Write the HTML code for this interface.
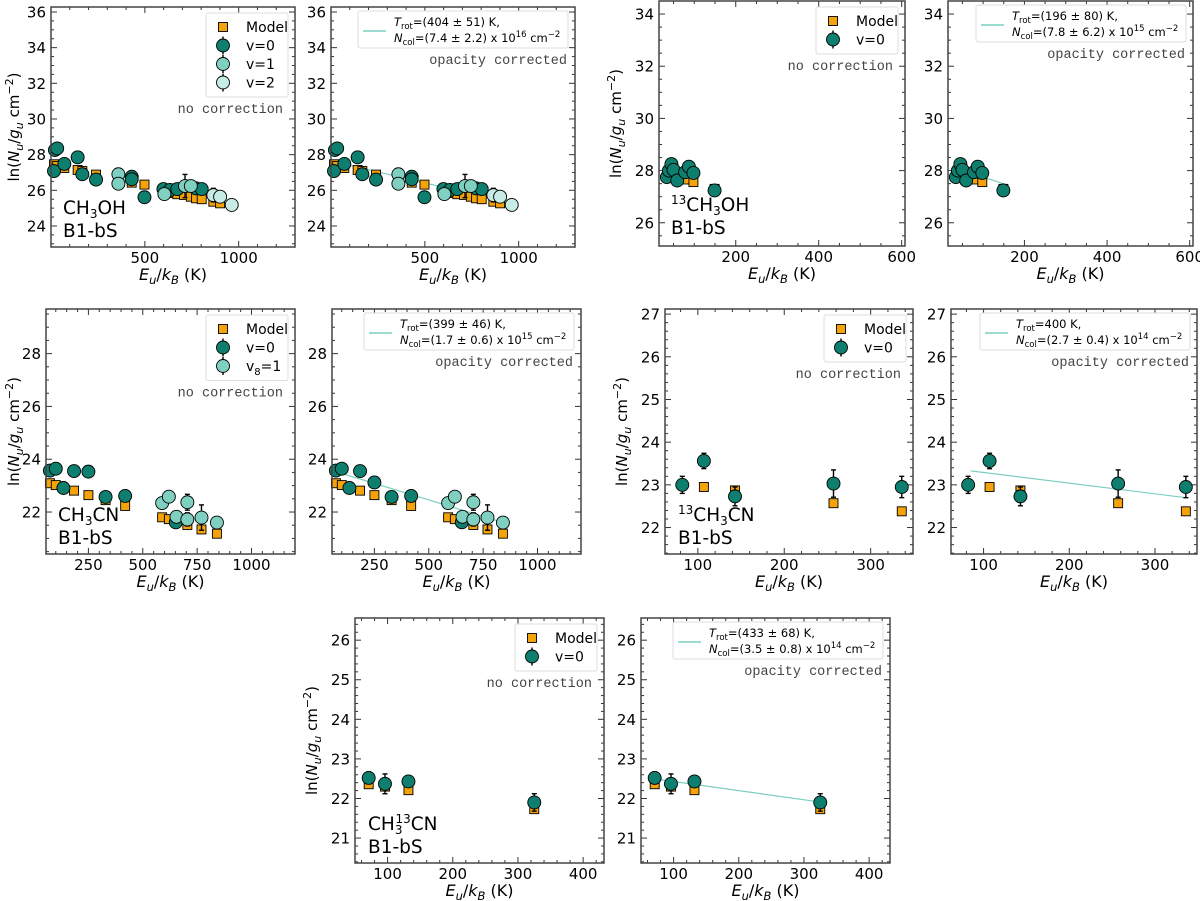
<!DOCTYPE html>
<html><head><meta charset="utf-8"><style>
html,body{margin:0;padding:0;background:#fff;}
svg{display:block;font-family:"DejaVu Sans","Liberation Sans",sans-serif;}
</style></head><body>
<svg id="fig" width="1200" height="901" viewBox="0 0 1200 901" xmlns="http://www.w3.org/2000/svg"></svg>
<script>
// ---- CH3OH ----
const ch3ohModelE=[16,33,71,142,167,240,430,498,634,673,709,745,773,803,865,901];
const ch3ohModelY=[27.46,27.36,27.25,27.14,27.08,26.88,26.43,26.32,25.85,25.78,25.74,25.64,25.55,25.5,25.36,25.27];
const ch3ohV0E=[21,33,16,71,142,167,240,430,430,498,599,634,673,773,803];
const ch3ohV0Y=[28.26,28.35,27.08,27.48,27.85,26.9,26.6,26.76,26.62,25.61,26.07,26.02,26.07,26.11,26.07];
const ch3ohV0Err=[0.1,0.1,0.1,0.1,0.1,0.1,0.1,0.12,0.1,0.15,0.1,0.1,0.1,0.1,0.1];
const ch3ohV1E=[359,359,604,714,745];
const ch3ohV1Y=[26.9,26.37,25.79,26.24,26.24];
const ch3ohV1Err=[0.1,0.1,0.1,0.65,0.1];
const ch3ohV2E=[865,901,963];
const ch3ohV2Y=[25.73,25.64,25.18];
const ch3ohV2Err=[0.38,0.1,0.1];
const ch3ohFitE=[40,960];
const ch3ohFitT=404, ch3ohFitB=27.65;
// ---- 13CH3OH ----
const c13ohModelE=[40,50,78,98,149];
const c13ohModelY=[27.85,27.9,27.66,27.56,27.3];
const c13ohV0E=[34,39,45,50,59,78,87,98,149];
const c13ohV0Y=[27.75,28.0,28.25,28.03,27.62,27.94,28.15,27.91,27.24];
const c13ohV0Err=[0.15,0.1,0.1,0.1,0.1,0.1,0.12,0.1,0.1];
const c13ohFitE=[35,150];
const c13ohFitT=196, c13ohFitB=28.26;
// ---- CH3CN ----
const cnModelE=[73,100,184,250,329,419,589,620,652,705,770,841];
const cnModelY=[23.09,23.02,22.81,22.64,22.45,22.23,21.8,21.73,21.63,21.51,21.34,21.18];
const cnV0E=[73,100,135,184,250,329,419,652];
const cnV0Y=[23.57,23.64,22.91,23.55,23.53,22.57,22.61,21.61];
const cnV0YCorr=[23.57,23.64,22.91,23.55,23.12,22.57,22.61,21.61];
const cnV0Err=[0.08,0.08,0.08,0.08,0.08,0.1,0.22,0.1];
const cnV8E=[589,620,655,705,705,770,841];
const cnV8Y=[22.34,22.58,21.82,22.37,21.72,21.79,21.6];
const cnV8Err=[0.22,0.12,0.12,0.3,0.25,0.48,0.22];
const cnFitE=[73,840];
const cnFitT=399, cnFitB=23.71;
// ---- 13CH3CN ----
const c13cnModelE=[107,143,257,336];
const c13cnModelY=[22.95,22.87,22.57,22.38];
const c13cnV0E=[82,107,143,257,336];
const c13cnV0Y=[23.0,23.56,22.73,23.03,22.95];
const c13cnV0Err=[0.2,0.18,0.22,0.32,0.25];
const c13cnFitE=[85,336];
const c13cnFitT=400, c13cnFitB=23.54;
// ---- CH3 13CN ----
const cn13ModelE=[71,96,132,325];
const cn13ModelY=[22.36,22.3,22.21,21.73];
const cn13V0E=[71,96,132,325];
const cn13V0Y=[22.52,22.37,22.43,21.9];
const cn13V0Err=[0.15,0.25,0.12,0.22];
const cn13FitE=[71,325];
const cn13FitT=433, cn13FitB=22.66;

const NS="http://www.w3.org/2000/svg";
const svg=document.getElementById('fig');
const C_MODEL="#f5a30a", C_V0="#0e7f6e", C_V1="#80d0c2", C_V2="#c6ece5", C_FIT="#7ccfc0";
function mk(tag,attrs,parent){const e=document.createElementNS(NS,tag);for(const k in attrs)e.setAttribute(k,attrs[k]);(parent||svg).appendChild(e);return e;}

const panels=[
 {l:51,r:295,t:7,b:247,xl:[0,1300],yl:[22.82,36.28],xt:[500,1000],xm:100,yt:[24,26,28,30,32,34,36],ym:0.5,ylab:true,
  series:[['model',ch3ohModelE,ch3ohModelY,null],['v0',ch3ohV0E,ch3ohV0Y,ch3ohV0Err],['v1',ch3ohV1E,ch3ohV1Y,ch3ohV1Err],['v2',ch3ohV2E,ch3ohV2Y,ch3ohV2Err]],
  legend:[['model','Model'],['v0','v=0'],['v1','v=1'],['v2','v=2']],species:['CH','3','OH',''],sx:63,sy:214},
 {l:331,r:575,t:7,b:247,xl:[0,1300],yl:[22.82,36.28],xt:[500,1000],xm:100,yt:[24,26,28,30,32,34,36],ym:0.5,
  series:[['model',ch3ohModelE,ch3ohModelY,null],['v0',ch3ohV0E,ch3ohV0Y,ch3ohV0Err],['v1',ch3ohV1E,ch3ohV1Y,ch3ohV1Err],['v2',ch3ohV2E,ch3ohV2Y,ch3ohV2Err]],
  fit:[ch3ohFitE,ch3ohFitT,ch3ohFitB],fitText:['(404 ± 51) K,','(7.4 ± 2.2) x 10','16']},
 {l:659,r:905,t:1,b:246,xl:[15,608],yl:[25.11,34.5],xt:[200,400,600],xm:50,yt:[26,28,30,32,34],ym:0.5,ylab:true,
  series:[['model',c13ohModelE,c13ohModelY,null],['v0',c13ohV0E,c13ohV0Y,c13ohV0Err]],
  legend:[['model','Model'],['v0','v=0']],species:['CH','3','OH','13'],sx:671,sy:211},
 {l:948,r:1193,t:1,b:246,xl:[15,608],yl:[25.11,34.5],xt:[200,400,600],xm:50,yt:[26,28,30,32,34],ym:0.5,
  series:[['model',c13ohModelE,c13ohModelY,null],['v0',c13ohV0E,c13ohV0Y,c13ohV0Err]],
  fit:[c13ohFitE,c13ohFitT,c13ohFitB],fitText:['(196 ± 80) K,','(7.8 ± 6.2) x 10','15']},
 {l:46,r:295,t:309,b:554,xl:[55,1200],yl:[20.41,29.69],xt:[250,500,750,1000],xm:50,yt:[22,24,26,28],ym:0.5,ylab:true,
  series:[['model',cnModelE,cnModelY,null],['v0',cnV0E,cnV0Y,cnV0Err],['v1',cnV8E,cnV8Y,cnV8Err]],
  legend:[['model','Model'],['v0','v=0'],['v1','v8']],species:['CH','3','CN',''],sx:58,sy:521},
 {l:332,r:581,t:309,b:554,xl:[55,1200],yl:[20.41,29.69],xt:[250,500,750,1000],xm:50,yt:[22,24,26,28],ym:0.5,
  series:[['model',cnModelE,cnModelY,null],['v0',cnV0E,cnV0YCorr,cnV0Err],['v1',cnV8E,cnV8Y,cnV8Err]],
  fit:[cnFitE,cnFitT,cnFitB],fitText:['(399 ± 46) K,','(1.7 ± 0.6) x 10','15']},
 {l:665,r:913,t:309,b:554,xl:[62,349],yl:[21.38,27.12],xt:[100,200,300],xm:20,yt:[22,23,24,25,26,27],ym:0.2,ylab:true,
  series:[['model',c13cnModelE,c13cnModelY,null],['v0',c13cnV0E,c13cnV0Y,c13cnV0Err]],
  legend:[['model','Model'],['v0','v=0']],species:['CH','3','CN','13'],sx:678,sy:521},
 {l:951,r:1197,t:309,b:554,xl:[62,349],yl:[21.38,27.12],xt:[100,200,300],xm:20,yt:[22,23,24,25,26,27],ym:0.2,
  series:[['model',c13cnModelE,c13cnModelY,null],['v0',c13cnV0E,c13cnV0Y,c13cnV0Err]],
  fit:[c13cnFitE,c13cnFitT,c13cnFitB],fitText:['400 K,','(2.7 ± 0.4) x 10','14'],fixedT:true},
 {l:355,r:604,t:618,b:863,xl:[50,432],yl:[20.37,26.56],xt:[100,200,300,400],xm:20,yt:[21,22,23,24,25,26],ym:0.2,ylab:true,
  series:[['model',cn13ModelE,cn13ModelY,null],['v0',cn13V0E,cn13V0Y,cn13V0Err]],
  legend:[['model','Model'],['v0','v=0']],species:['CH','3','CN','13x'],sx:368,sy:830},
 {l:641,r:890,t:618,b:863,xl:[50,432],yl:[20.37,26.56],xt:[100,200,300,400],xm:20,yt:[21,22,23,24,25,26],ym:0.2,
  series:[['model',cn13ModelE,cn13ModelY,null],['v0',cn13V0E,cn13V0Y,cn13V0Err]],
  fit:[cn13FitE,cn13FitT,cn13FitB],fitText:['(433 ± 68) K,','(3.5 ± 0.8) x 10','14']}
];

function marker(g,kind,x,y){
  if(kind==='model'){
    const m=mk('rect',{x:x-4.5,y:y-4.5,width:9,height:9,fill:C_MODEL,stroke:'#000','stroke-width':0.9},g);
    
    
  } else {
    const col=kind==='v0'?C_V0:(kind==='v1'?C_V1:C_V2);
    const m=mk('circle',{cx:x,cy:y,r:6.5,fill:col,stroke:'#000','stroke-width':0.9},g);
    
    
  }
}

panels.forEach((p,pi)=>{
  const g=mk('g',{});
  
  
  const X=v=>p.l+(v-p.xl[0])/(p.xl[1]-p.xl[0])*(p.r-p.l);
  const Y=v=>p.b-(v-p.yl[0])/(p.yl[1]-p.yl[0])*(p.b-p.t);
  const tk=mk('g',{stroke:'#333','stroke-width':1},g);
  
  
  for(let v=Math.ceil(p.xl[0]/p.xm)*p.xm;v<=p.xl[1];v+=p.xm){
    const major=p.xt.some(t=>Math.abs(t-v)<1e-6)||Math.abs(v%(p.xt[1]-p.xt[0]))<1e-6;
    const L=major?6:3,x=X(v);
    mk('line',{x1:x,y1:p.b,x2:x,y2:p.b-L},tk);mk('line',{x1:x,y1:p.t,x2:x,y2:p.t+L},tk);
  }
  const ystep=p.yt[1]-p.yt[0];
  for(let v=Math.ceil(p.yl[0]/p.ym-1e-9)*p.ym;v<=p.yl[1]+1e-9;v+=p.ym){
    const r=Math.abs(((v-p.yt[0])/ystep)-Math.round((v-p.yt[0])/ystep));
    const L=r<1e-6?6:3,y=Y(v);
    mk('line',{x1:p.l,y1:y,x2:p.l+L,y2:y},tk);mk('line',{x1:p.r,y1:y,x2:p.r-L,y2:y},tk);
  }
  p.xt.forEach(v=>{const t=mk('text',{x:X(v),y:p.b+16,'text-anchor':'middle','font-size':15,fill:'#000'},g);t.textContent=v;
    
    });
  p.yt.forEach(v=>{const t=mk('text',{x:p.l-5,y:Y(v)+5.5,'text-anchor':'end','font-size':15,fill:'#000'},g);t.textContent=v;
    
    });
  const xlab=mk('text',{x:(p.l+p.r)/2,y:p.b+33,'text-anchor':'middle','font-size':16},g);
  
  
  xlab.innerHTML='<tspan font-style="italic">E</tspan><tspan font-style="italic" font-size="11.5" dy="4">u</tspan><tspan dy="-4">/</tspan><tspan font-style="italic">k</tspan><tspan font-style="italic" font-size="11.5" dy="4">B</tspan><tspan dy="-4"> (K)</tspan>';
  if(p.ylab){
    const cx=Math.max(p.l-38,19),cy=(p.t+p.b)/2;
    const yl=mk('text',{x:cx,y:cy,'text-anchor':'middle','font-size':15,transform:`rotate(-90 ${cx} ${cy})`},g);
    
    
    yl.innerHTML='ln(<tspan font-style="italic">N</tspan><tspan font-style="italic" font-size="11" dy="4">u</tspan><tspan dy="-4">/</tspan><tspan font-style="italic">g</tspan><tspan font-style="italic" font-size="11" dy="4">u</tspan><tspan dy="-4"> cm</tspan><tspan font-size="11" dy="-6">−2</tspan><tspan dy="6">)</tspan>';
  }
  if(p.fit){
    const [fe,T,B]=p.fit;
    const fl=mk('line',{x1:X(fe[0]),y1:Y(B-fe[0]/T),x2:X(fe[1]),y2:Y(B-fe[1]/T),stroke:C_FIT,'stroke-width':1.2},g);
    
    
  }
  p.series.forEach(s=>{
    const [kind,xs,ys,err]=s;
    const sg=mk('g',{},g);
    
    
    xs.forEach((e,i)=>{
      if(err){const x=X(e),y1=Y(ys[i]+err[i]),y2=Y(ys[i]-err[i]);
        mk('line',{x1:x,y1:y1,x2:x,y2:y2,stroke:'#000','stroke-width':1.4},sg);
        mk('line',{x1:x-2.5,y1:y1,x2:x+2.5,y2:y1,stroke:'#000','stroke-width':1.4},sg);
        mk('line',{x1:x-2.5,y1:y2,x2:x+2.5,y2:y2,stroke:'#000','stroke-width':1.4},sg);}
      marker(sg,kind,X(e),Y(ys[i]));
    });
  });
  const fr=mk('rect',{x:p.l,y:p.t,width:p.r-p.l,height:p.b-p.t,fill:'none',stroke:'#444','stroke-width':1.5},g);
  
  
  if(p.legend){
    const n=p.legend.length,bw=82,bh=10+n*18.5,bx=p.r-7-bw,by=p.t+6;
    const lg=mk('g',{},g);
    
    
    mk('rect',{x:bx,y:by,width:bw,height:bh,rx:2,fill:'#fff',stroke:'#ddd','stroke-width':1},lg);
    p.legend.forEach((it,i)=>{
      const cy=by+14+i*18.5;
      if(it[0]!=='model'){mk('line',{x1:bx+17,y1:cy-9,x2:bx+17,y2:cy+9,stroke:'#000','stroke-width':1.4},lg);}
      marker(lg,it[0],bx+17,cy);
      const t=mk('text',{x:bx+40,y:cy+5,'font-size':14},lg);
      
      
      if(it[1]==='v8') t.innerHTML='v<tspan font-size="10" dy="4">8</tspan><tspan dy="-4">=1</tspan>'; else t.textContent=it[1];
    });
    const nc=mk('text',{x:p.r-12,y:by+bh+16,'text-anchor':'end','font-size':13.5,fill:'#444','font-family':'"Liberation Mono",monospace'},g);
    nc.textContent='no correction';
    
    
    const sp=mk('text',{x:p.sx,y:p.sy,'font-size':18.5},g);
    
    
    const [a,sub,b,pre]=p.species;
    if(pre==='13') sp.innerHTML='<tspan font-size="12" dy="-7">13</tspan><tspan dy="7">'+a+'</tspan><tspan font-size="12" dy="4">'+sub+'</tspan><tspan dy="-4">'+b+'</tspan>';
    else if(pre==='13x') sp.innerHTML=a+'<tspan font-size="12" dy="4">3</tspan><tspan font-size="12" dx="-7" dy="-11">13</tspan><tspan dy="7">CN</tspan>';
    else sp.innerHTML=a+'<tspan font-size="12" dy="4">'+sub+'</tspan><tspan dy="-4">'+b+'</tspan>';
    const src=mk('text',{x:p.sx,y:p.sy+23,'font-size':18.5},g);
    src.textContent='B1-bS';
    
    
  }
  if(p.fit){
    const bw=210,bx=p.r-7-bw,by=p.t+4;
    const lg=mk('g',{},g);
    
    
    mk('rect',{x:bx,y:by,width:bw,height:37,rx:2,fill:'#fff',stroke:'#ddd','stroke-width':1},lg);
    mk('line',{x1:bx+5,y1:by+20,x2:bx+28,y2:by+20,stroke:C_FIT,'stroke-width':1.5},lg);
    const t1=mk('text',{x:bx+36,y:by+15,'font-size':11.5},lg);
    t1.innerHTML='<tspan font-style="italic">T</tspan><tspan font-size="8.5" dy="3">rot</tspan><tspan dy="-3">='+p.fitText[0]+'</tspan>';
    
    
    const t2=mk('text',{x:bx+36,y:by+31,'font-size':11.5},lg);
    t2.innerHTML='<tspan font-style="italic">N</tspan><tspan font-size="8.5" dy="3">col</tspan><tspan dy="-3">='+p.fitText[1]+'</tspan><tspan font-size="8.5" dy="-5">'+p.fitText[2]+'</tspan><tspan dy="5"> cm</tspan><tspan font-size="8.5" dy="-5">−2</tspan>';
    
    
    const oc=mk('text',{x:p.r-8,y:by+53,'text-anchor':'end','font-size':13.5,fill:'#444','font-family':'"Liberation Mono",monospace'},g);
    oc.textContent='opacity corrected';
    
    
  }
});
</script>
</body></html>
